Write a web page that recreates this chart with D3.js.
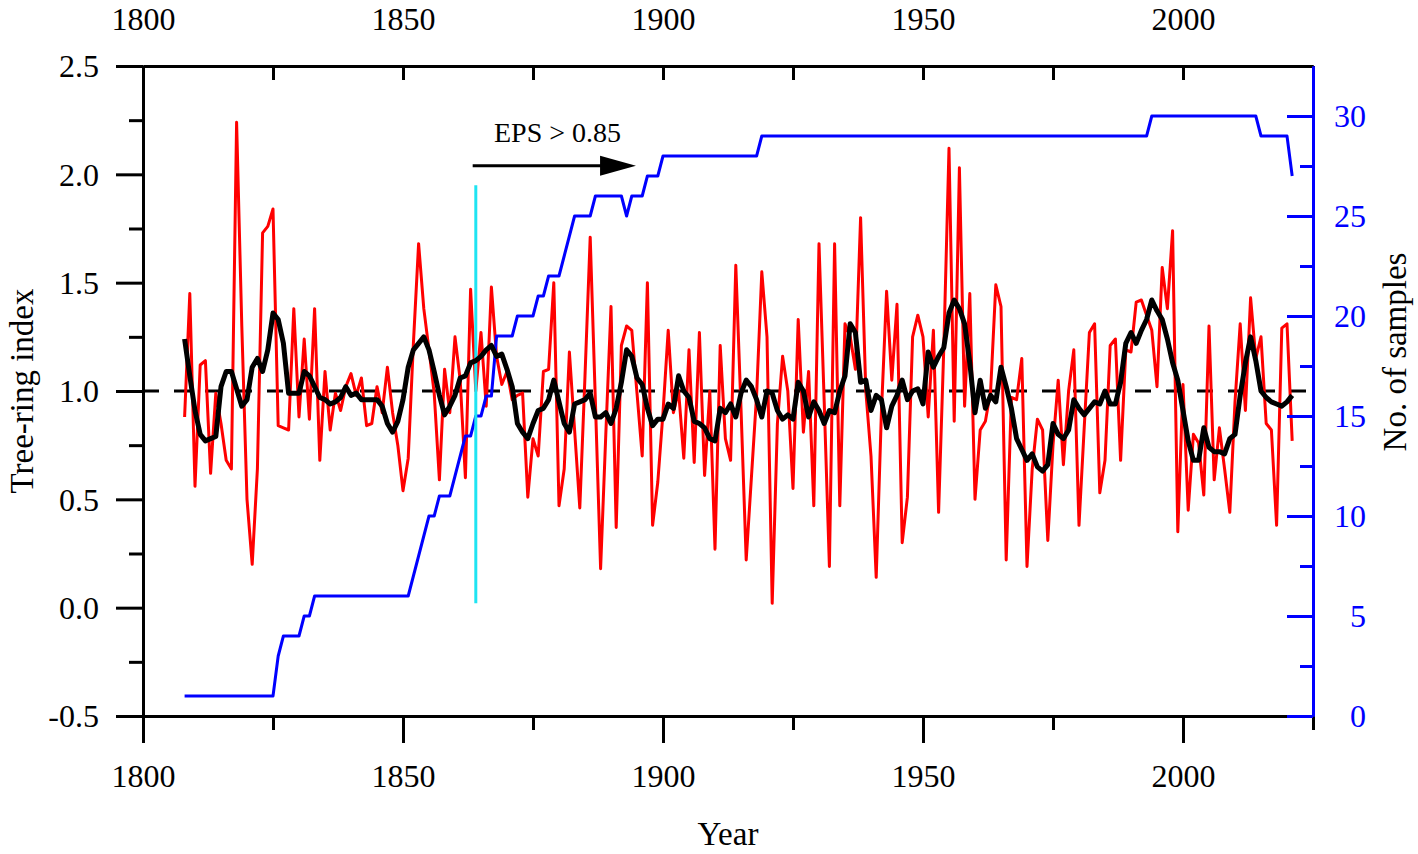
<!DOCTYPE html>
<html>
<head>
<meta charset="utf-8">
<script src="https://cdn.jsdelivr.net/npm/d3@7"></script>
<style>
    body { margin: 0; background: #fff; }
    svg { display: block; font-family: "Liberation Serif", "Times New Roman", serif; }
</style>
</head>
<body>
<div id="chart"></div>
<script>
// data, one value per year starting at firstYear
const firstYear = 1808;

const ringIndex = [
    0.88, 1.45, 0.56, 1.12, 1.14, 0.62, 0.99, 0.85, 0.68, 0.64, 2.24, 1.30, 0.50, 0.20, 0.64, 1.73, 1.76, 1.84, 0.84, 0.83,
    0.82, 1.38, 0.88, 1.24, 0.87, 1.38, 0.68, 1.09, 0.82, 0.99, 0.91, 1.02, 1.08, 0.98, 1.06, 0.84, 0.85, 1.02, 0.90, 1.11,
    0.90, 0.75, 0.54, 0.69, 1.22, 1.68, 1.38, 1.19, 0.99, 0.59, 1.10, 0.90, 1.25, 1.05, 0.60, 1.47, 1.00, 1.27, 0.93, 1.48,
    1.16, 1.03, 1.09, 0.96, 0.98, 0.99, 0.51, 0.78, 0.70, 1.09, 1.10, 1.50, 0.47, 0.64, 1.18, 0.82, 0.46, 1.07, 1.71, 0.95,
    0.18, 0.80, 1.39, 0.37, 1.21, 1.30, 1.28, 0.99, 0.70, 1.50, 0.38, 0.58, 0.90, 1.28, 0.90, 1.00, 0.69, 1.19, 0.67, 1.27,
    0.61, 1.00, 0.27, 1.21, 0.78, 0.68, 1.58, 0.92, 0.22, 0.60, 0.98, 1.55, 1.25, 0.02, 0.85, 1.16, 1.00, 0.55, 1.33, 0.81,
    1.09, 0.47, 1.68, 0.95, 0.19, 1.68, 0.47, 1.31, 1.25, 1.10, 1.80, 1.00, 0.70, 0.14, 0.90, 1.46, 1.05, 1.40, 0.30, 0.51,
    1.25, 1.35, 1.25, 0.88, 1.28, 0.44, 1.20, 2.12, 0.86, 2.03, 0.93, 1.45, 0.50, 0.82, 0.86, 1.00, 1.49, 1.39, 0.22, 0.97,
    0.96, 1.15, 0.19, 0.64, 0.87, 0.82, 0.31, 0.75, 1.05, 0.66, 1.00, 1.19, 0.38, 0.83, 1.27, 1.31, 0.53, 0.68, 1.21, 1.24,
    0.68, 1.19, 1.18, 1.41, 1.42, 1.35, 1.28, 1.02, 1.57, 1.38, 1.74, 0.35, 1.03, 0.45, 0.80, 0.76, 0.52, 1.30, 0.59, 0.83,
    0.64, 0.44, 0.95, 1.31, 0.91, 1.43, 1.15, 1.25, 0.85, 0.82, 0.38, 1.29, 1.31, 0.77
];

const smoothIndex = [
    1.24, 1.07, 0.91, 0.80, 0.77, 0.78, 0.79, 1.02, 1.09, 1.09, 1.01, 0.93, 0.96, 1.11, 1.15, 1.09, 1.19, 1.36, 1.33, 1.22,
    0.99, 0.99, 0.99, 1.09, 1.07, 1.02, 0.97, 0.96, 0.94, 0.95, 0.97, 1.02, 0.98, 0.99, 0.96, 0.96, 0.96, 0.96, 0.93, 0.85,
    0.81, 0.86, 0.96, 1.11, 1.19, 1.22, 1.25, 1.19, 1.09, 0.98, 0.89, 0.93, 0.98, 1.06, 1.07, 1.13, 1.14, 1.16, 1.19, 1.21,
    1.16, 1.17, 1.10, 1.02, 0.85, 0.81, 0.78, 0.85, 0.91, 0.92, 0.96, 1.05, 0.95, 0.85, 0.81, 0.94, 0.95, 0.96, 0.99, 0.88,
    0.88, 0.90, 0.85, 0.92, 1.04, 1.19, 1.16, 1.06, 1.03, 0.92, 0.84, 0.87, 0.87, 0.94, 0.92, 1.07, 1.00, 0.97, 0.86, 0.85,
    0.83, 0.78, 0.77, 0.92, 0.90, 0.94, 0.88, 0.99, 1.05, 1.02, 0.96, 0.88, 1.00, 0.99, 0.91, 0.87, 0.89, 0.87, 1.04, 1.00,
    0.88, 0.95, 0.91, 0.85, 0.91, 0.90, 1.00, 1.07, 1.31, 1.27, 1.04, 1.05, 0.91, 0.98, 0.96, 0.83, 0.93, 0.98, 1.05, 0.96,
    1.00, 1.01, 0.94, 1.18, 1.11, 1.16, 1.20, 1.36, 1.42, 1.38, 1.31, 1.13, 0.90, 1.05, 0.92, 0.98, 0.95, 1.11, 1.02, 0.92,
    0.78, 0.73, 0.68, 0.71, 0.65, 0.63, 0.66, 0.85, 0.80, 0.78, 0.82, 0.96, 0.92, 0.89, 0.92, 0.95, 0.94, 1.00, 0.94, 0.94,
    1.04, 1.22, 1.27, 1.22, 1.28, 1.33, 1.42, 1.37, 1.33, 1.24, 1.13, 1.05, 0.91, 0.77, 0.68, 0.68, 0.83, 0.74, 0.72, 0.72,
    0.71, 0.78, 0.80, 0.98, 1.13, 1.25, 1.14, 1.00, 0.97, 0.95, 0.94, 0.93, 0.95, 0.98
];

const sampleDepth = [
    1, 1, 1, 1, 1, 1, 1, 1, 1, 1, 1, 1, 1, 1, 1, 1, 1, 1, 3, 4,
    4, 4, 4, 5, 5, 6, 6, 6, 6, 6, 6, 6, 6, 6, 6, 6, 6, 6, 6, 6,
    6, 6, 6, 6, 7, 8, 9, 10, 10, 11, 11, 11, 12, 13, 14, 14, 15, 15, 16, 16,
    19, 19, 19, 19, 20, 20, 20, 20, 21, 21, 22, 22, 22, 23, 24, 25, 25, 25, 25, 26,
    26, 26, 26, 26, 26, 25, 26, 26, 26, 27, 27, 27, 28, 28, 28, 28, 28, 28, 28, 28,
    28, 28, 28, 28, 28, 28, 28, 28, 28, 28, 28, 29, 29, 29, 29, 29, 29, 29, 29, 29,
    29, 29, 29, 29, 29, 29, 29, 29, 29, 29, 29, 29, 29, 29, 29, 29, 29, 29, 29, 29,
    29, 29, 29, 29, 29, 29, 29, 29, 29, 29, 29, 29, 29, 29, 29, 29, 29, 29, 29, 29,
    29, 29, 29, 29, 29, 29, 29, 29, 29, 29, 29, 29, 29, 29, 29, 29, 29, 29, 29, 29,
    29, 29, 29, 29, 29, 29, 30, 30, 30, 30, 30, 30, 30, 30, 30, 30, 30, 30, 30, 30,
    30, 30, 30, 30, 30, 30, 30, 29, 29, 29, 29, 29, 29, 27
];

const yearTicks = [1800, 1850, 1900, 1950, 2000];
const yearMinorTicks = [1825, 1875, 1925, 1975, 2025];
const indexTicks = [-0.5, 0.0, 0.5, 1.0, 1.5, 2.0, 2.5];
const indexMinorTicks = [-0.25, 0.25, 0.75, 1.25, 1.75, 2.25];
const depthTicks = [0, 5, 10, 15, 20, 25, 30];
const depthMinorTicks = [2.5, 7.5, 12.5, 17.5, 22.5, 27.5];

// EPS > 0.85 cut-off year and the arrow that marks the reliable period
const epsYear = 1864;
const epsLabel = "EPS > 0.85";

const W = 1418, H = 854;
const plot = { left: 143, right: 1313, top: 66, bottom: 716 };

const x = d3.scaleLinear().domain([1800, 2025]).range([plot.left, plot.right]);
const yIndex = d3.scaleLinear().domain([-0.5, 2.5]).range([plot.bottom, plot.top]);
const yDepth = d3.scaleLinear().domain([0, 32.5]).range([plot.bottom, plot.top]);

const svg = d3.select("#chart").append("svg")
    .attr("width", W)
    .attr("height", H);

svg.append("rect").attr("width", W).attr("height", H).attr("fill", "#fff");

const yearOf = (d, i) => firstYear + i;

// reference line at index 1.0
svg.append("line")
    .attr("x1", plot.left).attr("x2", plot.right)
    .attr("y1", yIndex(1)).attr("y2", yIndex(1))
    .attr("stroke", "#000")
    .attr("stroke-width", 3)
    .attr("stroke-dasharray", "16,15");

svg.append("path")
    .datum(ringIndex)
    .attr("fill", "none")
    .attr("stroke", "#ff0000")
    .attr("stroke-width", 3)
    .attr("stroke-linejoin", "round")
    .attr("d", d3.line().x((d, i) => x(yearOf(d, i))).y(d => yIndex(d)));

svg.append("path")
    .datum(sampleDepth)
    .attr("fill", "none")
    .attr("stroke", "#0000ff")
    .attr("stroke-width", 3)
    .attr("stroke-linejoin", "round")
    .attr("d", d3.line().x((d, i) => x(yearOf(d, i))).y(d => yDepth(d)));

svg.append("line")
    .attr("x1", x(epsYear)).attr("x2", x(epsYear))
    .attr("y1", yIndex(0.02)).attr("y2", yIndex(1.95))
    .attr("stroke", "#1fe4f2")
    .attr("stroke-width", 3);

svg.append("path")
    .datum(smoothIndex)
    .attr("fill", "none")
    .attr("stroke", "#000")
    .attr("stroke-width", 5)
    .attr("stroke-linejoin", "round")
    .attr("d", d3.line().x((d, i) => x(yearOf(d, i))).y(d => yIndex(d)));

// arrow + label
const arrowY = yIndex(2.04);
svg.append("line")
    .attr("x1", x(1863.4)).attr("x2", x(1889))
    .attr("y1", arrowY).attr("y2", arrowY)
    .attr("stroke", "#000")
    .attr("stroke-width", 3);
svg.append("path")
    .attr("d", `M${x(1894.8)},${arrowY} L${x(1887.9)},${arrowY - 10} L${x(1887.9)},${arrowY + 10} Z`)
    .attr("fill", "#000");
svg.append("text")
    .attr("x", x(1867.5))
    .attr("y", yIndex(2.15))
    .attr("font-size", 28)
    .text(epsLabel);

// axes
function styleAxis(g, color) {
    g.selectAll("path.domain").attr("stroke", color).attr("stroke-width", 3);
    g.selectAll(".tick line").attr("stroke", color).attr("stroke-width", 3);
    g.selectAll(".tick text")
        .attr("fill", color)
        .attr("font-size", 32)
        .attr("font-family", "Liberation Serif, Times New Roman, serif");
}

// plain hyphen for negatives, as in the original figure
const oneDecimal = d => d.toFixed(1);

// bottom
const bottomMinorG = svg.append("g")
    .attr("transform", `translate(0,${plot.bottom})`)
    .call(d3.axisBottom(x).tickValues(yearMinorTicks).tickSize(14).tickSizeOuter(0).tickFormat(""));
styleAxis(bottomMinorG, "#000");
const bottomG = svg.append("g")
    .attr("transform", `translate(0,${plot.bottom})`)
    .call(d3.axisBottom(x).tickValues(yearTicks).tickSize(27).tickSizeOuter(0).tickFormat(d3.format("d")));
styleAxis(bottomG, "#000");
bottomG.selectAll(".tick text").attr("y", 71).attr("dy", 0);

// top
const topMinorG = svg.append("g")
    .attr("transform", `translate(0,${plot.top})`)
    .call(d3.axisTop(x).tickValues(yearMinorTicks).tickSize(-14).tickSizeOuter(0).tickFormat(""));
styleAxis(topMinorG, "#000");
const topG = svg.append("g")
    .attr("transform", `translate(0,${plot.top})`)
    .call(d3.axisTop(x).tickValues(yearTicks).tickSize(-14).tickSizeOuter(0).tickFormat(d3.format("d")));
styleAxis(topG, "#000");
topG.selectAll(".tick text").attr("y", -36).attr("dy", 0);

// left
const leftMinorG = svg.append("g")
    .attr("transform", `translate(${plot.left},0)`)
    .call(d3.axisLeft(yIndex).tickValues(indexMinorTicks).tickSize(14).tickSizeOuter(0).tickFormat(""));
styleAxis(leftMinorG, "#000");
const leftG = svg.append("g")
    .attr("transform", `translate(${plot.left},0)`)
    .call(d3.axisLeft(yIndex).tickValues(indexTicks).tickSize(27).tickSizeOuter(0).tickFormat(oneDecimal));
styleAxis(leftG, "#000");
leftG.selectAll(".tick text").attr("x", -44).attr("dy", "0.34em");

// right
const rightMinorG = svg.append("g")
    .attr("transform", `translate(${plot.right},0)`)
    .call(d3.axisRight(yDepth).tickValues(depthMinorTicks).tickSize(-13).tickSizeOuter(0).tickFormat(""));
styleAxis(rightMinorG, "#0000ff");
const rightG = svg.append("g")
    .attr("transform", `translate(${plot.right},0)`)
    .call(d3.axisRight(yDepth).tickValues(depthTicks).tickSize(-26).tickSizeOuter(0).tickFormat(d3.format("d")));
styleAxis(rightG, "#0000ff");
rightG.selectAll(".tick text").attr("x", 53).attr("dy", "0.34em").attr("text-anchor", "end");

// titles
svg.append("text")
    .attr("x", (plot.left + plot.right) / 2)
    .attr("y", 845)
    .attr("text-anchor", "middle")
    .attr("font-size", 33)
    .text("Year");

svg.append("text")
    .attr("transform", "translate(33,391) rotate(-90)")
    .attr("text-anchor", "middle")
    .attr("font-size", 33)
    .text("Tree-ring index");

svg.append("text")
    .attr("transform", "translate(1406,352) rotate(-90)")
    .attr("text-anchor", "middle")
    .attr("font-size", 33)
    .text("No. of samples");
</script>
</body>
</html>
